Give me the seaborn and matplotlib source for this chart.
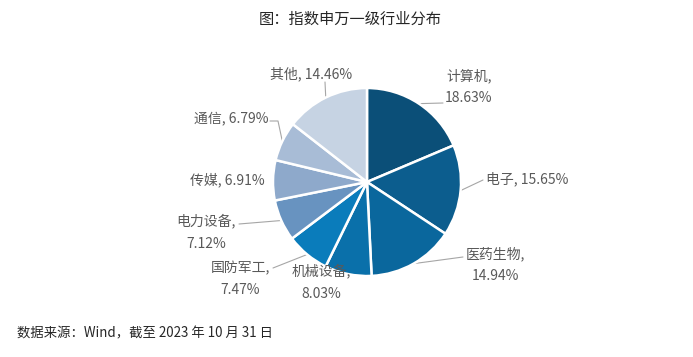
import numpy as np
import matplotlib
matplotlib.use("Agg")
import matplotlib.pyplot as plt
import seaborn as sns

categories = ["计算机", "电子", "医药生物", "机械设备", "国防军工", "电力设备", "传媒", "通信", "其他"]
values = [18.63, 15.65, 14.94, 8.03, 7.47, 7.12, 6.91, 6.79, 14.46]
colors = ["#0B4F78", "#0C5D8E", "#0A679D", "#0A70AA", "#0A7CBB",
          "#6893C0", "#8EA9CB", "#A8BCD6", "#C6D3E3"]

sns.set_theme(style="white")
plt.rcParams['font.family'] = ['Noto Sans CJK SC', 'DejaVu Sans']

W, H = 693, 357
fig = plt.figure(figsize=(W / 100, H / 100), dpi=100)
ax = fig.add_axes([0, 0, 1, 1])

cx, cy, R = 367, H - 182, 94
wedges, _ = ax.pie(values, colors=colors, startangle=90, counterclock=False,
                   center=(cx, cy), radius=R, frame=True,
                   wedgeprops=dict(edgecolor="white", linewidth=1.8))
ax.set_xlim(0, W)
ax.set_ylim(0, H)
ax.axis("off")

# label layout: (text x, text y (top-origin), two-line?, ha, leader points (top-origin) or None)
layout = {
    "计算机": (469, 87, True, "center", [(443, 103)]),
    "电子": (486, 179, False, "left", [(483, 180)]),
    "医药生物": (495, 265, True, "center", [(463, 257)]),
    "机械设备": (321, 282, True, "center", None),
    "国防军工": (240, 279, True, "center", [(273, 268)]),
    "电力设备": (206, 232, True, "center", [(239, 224)]),
    "传媒": (265, 180, False, "right", None),
    "通信": (268, 119, False, "right", [(278, 121), (270, 121)]),
    "其他": (352, 74, False, "right", [(325, 82)]),
}

label_color = "#595959"
line_color = "#A6A6A6"
cum = 0.0
for cat, val in zip(categories, values):
    mid = 90 - (cum + val / 2) * 3.6
    cum += val
    tx, ty, two, ha, lead = layout[cat]
    if two:
        s = f"{cat},\n{val:.2f}%"
    else:
        s = f"{cat}, {val:.2f}%"
    ax.text(tx, H - ty, s, ha=ha, va="center", multialignment="center",
            fontsize=10, color=label_color, linespacing=1.75)
    if lead:
        ex = cx + R * np.cos(np.radians(mid))
        ey = cy + R * np.sin(np.radians(mid))
        xs = [ex] + [p[0] for p in lead]
        ys = [ey] + [H - p[1] for p in lead]
        ax.plot(xs, ys, color=line_color, linewidth=0.8, zorder=0.5)

fig.text(350 / W, 1 - 19 / H, "图：指数申万一级行业分布", ha="center", va="center",
         fontsize=11, color="#262626")
fig.text(17 / W, 1 - 333 / H, "数据来源：Wind，截至 2023 年 10 月 31 日", ha="left", va="center",
         fontsize=9.6, color="#262626")

fig.savefig("out.png", dpi=100, facecolor="white")
